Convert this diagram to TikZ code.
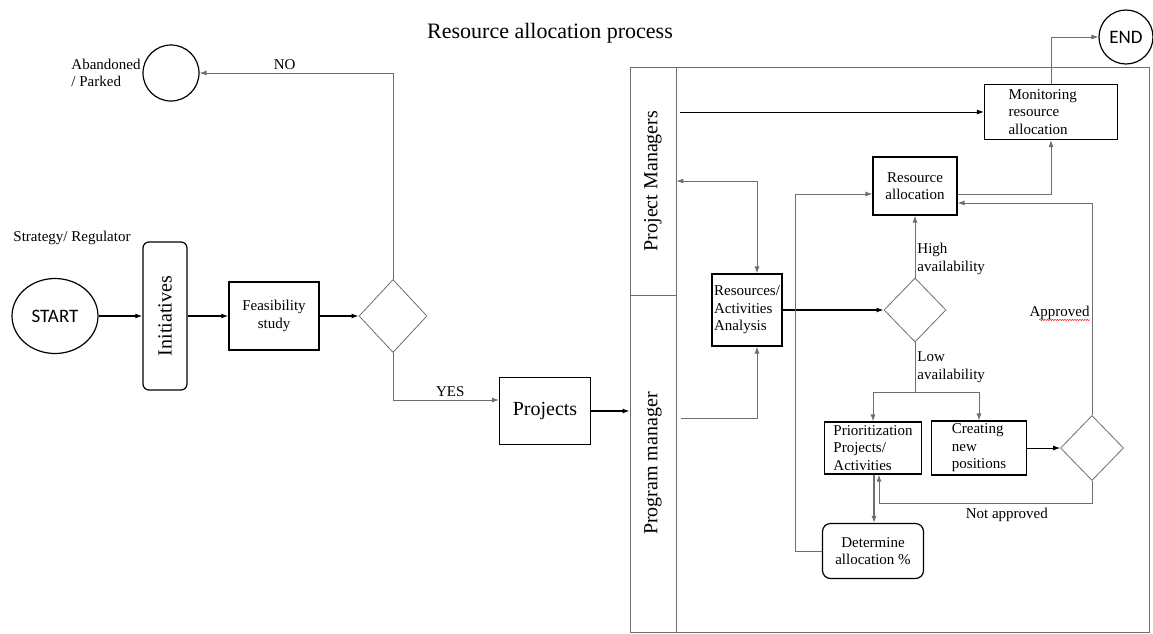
\documentclass[tikz,border=0pt]{standalone}
\usepackage{fontspec}
\setmainfont{Liberation Serif}
\newfontfamily\calibrifont{Carlito}
\usetikzlibrary{shapes.geometric, positioning, arrows.meta, decorations.pathmorphing}
\definecolor{linegray}{HTML}{6E6E6E}

\begin{document}
\begin{tikzpicture}[node distance=2cm, on grid, >={Latex[length=7pt,width=5pt]},
  txt/.style={font=\fontsize{15}{17.5}\selectfont},
  bigtxt/.style={font=\fontsize{20}{24}\selectfont},
  process/.style={draw, line width=1.2pt, inner sep=2pt, align=center, txt},
  decision/.style={diamond, draw=linegray, line width=0.8pt, inner sep=0pt},
  terminal/.style={draw, line width=1.2pt, inner sep=0pt, font=\calibrifont\fontsize{19}{22}\selectfont},
  lane/.style={draw=linegray, line width=0.8pt, inner sep=0pt},
  flow/.style={->, line width=1.3pt},
  link/.style={draw=linegray, line width=0.9pt}]

   \useasboundingbox (0,0) rectangle (1153pt,-633pt);

   \node[font=\fontsize{22}{26}\selectfont] (title) at (550pt,-33pt) {Resource allocation process};

   % left part
   \node[terminal, ellipse, minimum width=86pt, minimum height=75pt] (start) at (55pt,-316pt) {START};
   \node[txt] (strat) [above right=78pt and 17pt of start] {Strategy/ Regulator};
   \node[process, bigtxt, rounded corners=6pt, minimum width=44pt, minimum height=148pt] (init) [right=110pt of start] {\rotatebox{90}{Initiatives}};
   \node[process, minimum width=90pt, minimum height=68pt] (feas) [right=109pt of init] {Feasibility\\study};
   \node[decision, minimum width=68pt, minimum height=73pt] (dec1) [right=119pt of feas] {};
   \node[circle, draw, line width=1.2pt, minimum size=56pt] (aband) [above right=243pt and 6pt of init] {};
   \node[txt, align=left] (abandlbl) [left=65pt of aband] {Abandoned\\/ Parked};
   \node[process, bigtxt, minimum width=91pt, minimum height=67pt] (projects) [below right=95pt and 152pt of dec1] {Projects};

   % swimlanes
   \node[lane, minimum width=473pt, minimum height=565pt] (body) at (912.5pt,-349.5pt) {};
   \node[lane, bigtxt, minimum width=46pt, minimum height=228pt] (pmlane) at (653pt,-181pt) {\rotatebox{90}{Project Managers}};
   \node[lane, bigtxt, minimum width=46pt, minimum height=337pt] (proglane) [below=282.5pt of pmlane] {\rotatebox{90}{Program manager}};

   % right part
   \node[process, inner sep=1.5pt, minimum width=70pt, minimum height=72pt, align=left] (resan) [above right=101pt and 202pt of projects] {Resources/\\Activities\\Analysis};
   \node[decision, minimum width=62pt, minimum height=64pt] (dec2) [right=168pt of resan] {};
   \node[process, minimum width=84pt, minimum height=58pt] (resal) [above=124pt of dec2] {Resource\\allocation};
   \node[process, inner sep=0pt, minimum width=133pt, minimum height=55pt, text width=85pt, align=left] (monit) [above right=74pt and 136pt of resal] {Monitoring\\resource\\allocation};
   \node[terminal, circle, minimum size=54pt] (endn) [above right=75pt and 75pt of monit] {END};
   \node[process, inner ysep=0pt, minimum width=97pt, minimum height=52pt, align=left] (prio) [below left=138pt and 42pt of dec2] {Prioritization\\Projects/\\Activities};
   \node[process, inner ysep=0pt, minimum width=95pt, minimum height=54pt, align=left] (creat) [right=106pt of prio] {Creating\\new\\positions};
   \node[decision, minimum width=63pt, minimum height=65pt] (dec3) [right=113pt of creat] {};
   \node[process, rounded corners=8pt, minimum width=101pt, minimum height=55pt] (determ) [below=103pt of prio] {Determine\\allocation \%};

   % connectors
   \draw[flow] (start) -- (init);
   \draw[flow] (init) -- (feas);
   \draw[flow] (feas) -- (dec1);
   \draw[link, ->] (dec1.north) |- (aband.east) node[pos=0.78, above, txt] {NO};
   \draw[link, ->] (dec1.south) |- ([yshift=11pt]projects.west) node[pos=0.77, above, txt] {YES};
   \draw[flow] (projects.east) -- (projects.east -| proglane.west);

   \draw[link, <->] (pmlane.east) -| ([xshift=10pt]resan.north);
   \draw[->, line width=0.9pt] ([xshift=4pt]pmlane.east |- monit.west) -- (monit.west);
   \draw[link, ->] ([shift={(5pt,45pt)}]proglane.east) -| ([xshift=10pt]resan.south);
   \draw[flow] (resan) -- (dec2);
   \draw[link, ->] (dec2.north) -- (resal.south) node[pos=0.3, right, align=left, inner xsep=2pt, txt] {High\\availability};
   \draw[link] (dec2.south) -- node[right, align=left, inner xsep=2pt, txt] {Low\\availability} ++(0,-50pt) coordinate (lowsplit);
   \draw[link, ->] (lowsplit) -| (prio.north);
   \draw[link, ->] (lowsplit) -| (creat.north);
   \draw[->, line width=0.9pt] (creat) -- (dec3);
   \draw[link, ->] (dec3.north) |- ([yshift=-17pt]resal.east) node[pos=0.24, left, inner xsep=2pt, txt] (apprlbl) {Approved};
   \draw[red, line width=0.5pt, decorate, decoration={snake, amplitude=0.6pt, segment length=2.5pt}]
     ([shift={(12pt,-3pt)}]apprlbl.base west) -- ([shift={(-2pt,-3pt)}]apprlbl.base east);
   \draw[link] (dec3.south) -- ++(0,-23pt) coordinate (notappr);
   \draw[link, ->] (notappr) -| ([xshift=6pt]prio.south) node[pos=0.2, below, txt] {Not approved};
   \draw[link, ->, line width=1.1pt] ([xshift=1pt]prio.south) -- ([xshift=1pt]determ.north);
   \draw[link, ->] (determ.west) -- ++(-26pt,0) |- ([yshift=-8pt]resal.west);
   \draw[link, ->] ([yshift=-8pt]resal.east) -| (monit.south);
   \draw[link, ->] (monit.north) |- (endn.west);

\end{tikzpicture}
\end{document}
